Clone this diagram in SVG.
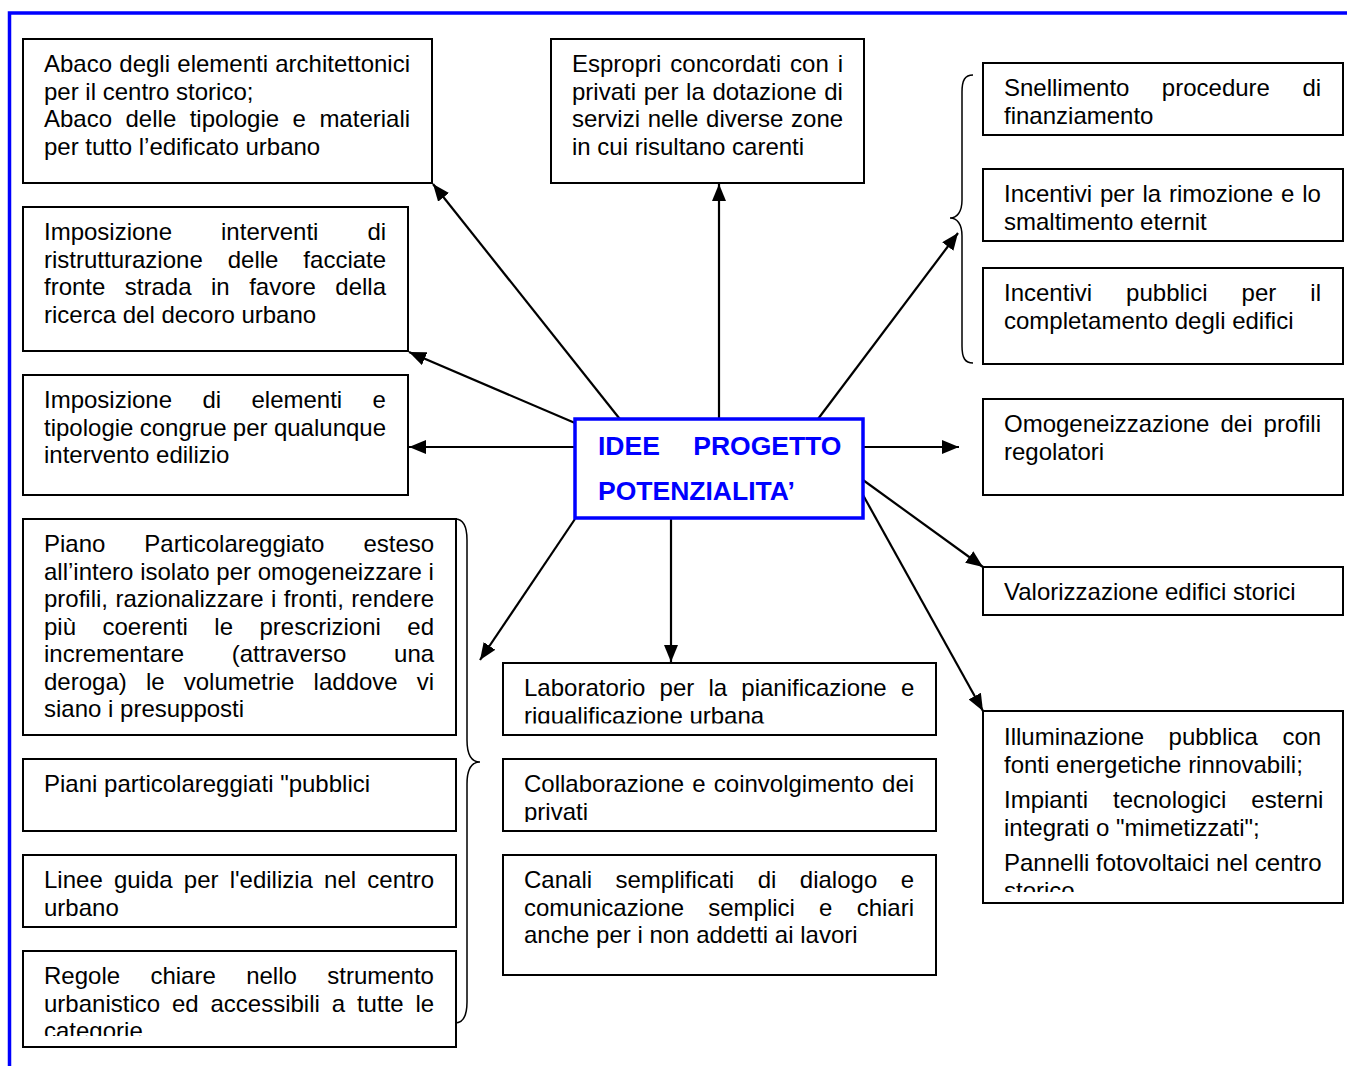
<svg xmlns="http://www.w3.org/2000/svg" width="1347" height="1066" viewBox="0 0 1347 1066">
<style>
.t{font-family:"Liberation Sans",Arial,sans-serif;font-size:24px;fill:#000}
.c{font-family:"Liberation Sans",Arial,sans-serif;font-size:26.5px;font-weight:bold;fill:#0000ff}
.b{fill:#fff;stroke:#000;stroke-width:2}
.cn{fill:none;stroke:#000;stroke-width:2.2}
.br{fill:none;stroke:#000;stroke-width:1.5}
</style>
<defs>
<marker id="ah" markerUnits="userSpaceOnUse" markerWidth="18" markerHeight="14" refX="17" refY="7" orient="auto">
<path d="M0,0 L17,7 L0,14 Z" fill="#000"/>
</marker>
<clipPath id="c8"><rect x="20" y="950" width="440" height="86"/></clipPath>
<clipPath id="c10"><rect x="500" y="662" width="440" height="61.5"/></clipPath>
<clipPath id="c11"><rect x="500" y="758" width="440" height="64"/></clipPath>
<clipPath id="c18"><rect x="980" y="710" width="367" height="182"/></clipPath>
</defs>
<rect width="1347" height="1066" fill="#fff"/>
<g id="frame">
<path d="M1347,13 L9.5,13 L9.5,1066" fill="none" stroke="#0000ff" stroke-width="3.5"/>
</g>
<g id="connectors">
<path class="cn" d="M623,423 L433,184" marker-end="url(#ah)"/>
<path class="cn" d="M719,419 L719,184" marker-end="url(#ah)"/>
<path class="cn" d="M575,423 L409,352" marker-end="url(#ah)"/>
<path class="cn" d="M575,447 L409,447" marker-end="url(#ah)"/>
<path class="cn" d="M815,423 L958,233" marker-end="url(#ah)"/>
<path class="cn" d="M863,447 L959,447" marker-end="url(#ah)"/>
<path class="cn" d="M863,480 L983,567" marker-end="url(#ah)"/>
<path class="cn" d="M863,495 L983,711" marker-end="url(#ah)"/>
<path class="cn" d="M671,518 L671,662" marker-end="url(#ah)"/>
<path class="cn" d="M575,519 L480,660" marker-end="url(#ah)"/>
<path class="br" d="M973,75 C965,75 962,80 962,92 L962,200 C962,212 957,218 950,218 C957,218 962,224 962,236 L962,346 C962,358 965,363 973,363"/>
<path class="br" d="M455,519 C463,519 467,525 467,540 L467,740 C467,755 472,762 480,762 C472,762 467,769 467,784 L467,1002 C467,1017 463,1023 455,1023"/>
</g>
<g id="n-abaco">
<rect class="b" x="23" y="39" width="409" height="144"/>
<text class="t" x="44" y="72" word-spacing="0.6">Abaco degli elementi architettonici</text>
<text class="t" x="44" y="99.5">per il centro storico;</text>
<text class="t" x="44" y="127" word-spacing="6.8">Abaco delle tipologie e materiali</text>
<text class="t" x="44" y="154.5">per tutto l’edificato urbano</text>
</g>
<g id="n-espropri">
<rect class="b" x="551" y="39" width="313" height="144"/>
<text class="t" x="572" y="72" word-spacing="2.3">Espropri concordati con i</text>
<text class="t" x="572" y="99.5" word-spacing="1">privati per la dotazione di</text>
<text class="t" x="572" y="127" word-spacing="1">servizi nelle diverse zone</text>
<text class="t" x="572" y="154.5">in cui risultano carenti</text>
</g>
<g id="n-facciate">
<rect class="b" x="23" y="207" width="385" height="144"/>
<text class="t" x="44" y="240" word-spacing="42.3">Imposizione interventi di</text>
<text class="t" x="44" y="267.5" word-spacing="18.3">ristrutturazione delle facciate</text>
<text class="t" x="44" y="295" word-spacing="12.8">fronte strada in favore della</text>
<text class="t" x="44" y="322.5">ricerca del decoro urbano</text>
</g>
<g id="n-elementi">
<rect class="b" x="23" y="375" width="385" height="120"/>
<text class="t" x="44" y="408" word-spacing="23.7">Imposizione di elementi e</text>
<text class="t" x="44" y="435.5" word-spacing="-0.3">tipologie congrue per qualunque</text>
<text class="t" x="44" y="463">intervento edilizio</text>
</g>
<g id="n-piano">
<rect class="b" x="23" y="519" width="433" height="216"/>
<text class="t" x="44" y="552" word-spacing="32.3">Piano Particolareggiato esteso</text>
<text class="t" x="44" y="579.5" word-spacing="0.1">all’intero isolato per omogeneizzare i</text>
<text class="t" x="44" y="607" word-spacing="0.8">profili, razionalizzare i fronti, rendere</text>
<text class="t" x="44" y="634.5" word-spacing="19.8">più coerenti le prescrizioni ed</text>
<text class="t" x="44" y="662" word-spacing="41">incrementare (attraverso una</text>
<text class="t" x="44" y="689.5" word-spacing="12.5">deroga) le volumetrie laddove vi</text>
<text class="t" x="44" y="717">siano i presupposti</text>
</g>
<g id="n-piani-pubblici">
<rect class="b" x="23" y="759" width="433" height="72"/>
<text class="t" x="44" y="792">Piani particolareggiati "pubblici</text>
</g>
<g id="n-linee">
<rect class="b" x="23" y="855" width="433" height="72"/>
<text class="t" x="44" y="888" word-spacing="4.5">Linee guida per l'edilizia nel centro</text>
<text class="t" x="44" y="915.5">urbano</text>
</g>
<g id="n-regole">
<rect class="b" x="23" y="951" width="433" height="96"/>
<g clip-path="url(#c8)">
<text class="t" x="44" y="984" word-spacing="23.7">Regole chiare nello strumento</text>
<text class="t" x="44" y="1011.5" word-spacing="5.2">urbanistico ed accessibili a tutte le</text>
<text class="t" x="44" y="1039">categorie</text>
</g>
</g>
<g id="n-center">
<rect x="575" y="419" width="288" height="99" fill="#fff" stroke="#0000ff" stroke-width="3.5"/>
<text class="c" x="598" y="455" word-spacing="26">IDEE PROGETTO</text>
<text class="c" x="598" y="500">POTENZIALITA’</text>
</g>
<g id="n-laboratorio">
<rect class="b" x="503" y="663" width="433" height="72"/>
<g clip-path="url(#c10)">
<text class="t" x="524" y="696" word-spacing="7.5">Laboratorio per la pianificazione e</text>
<text class="t" x="524" y="723.5">riqualificazione urbana</text>
</g>
</g>
<g id="n-collaborazione">
<rect class="b" x="503" y="759" width="433" height="72"/>
<g clip-path="url(#c11)">
<text class="t" x="524" y="792" word-spacing="1.5">Collaborazione e coinvolgimento dei</text>
<text class="t" x="524" y="819.5">privati</text>
</g>
</g>
<g id="n-canali">
<rect class="b" x="503" y="855" width="433" height="120"/>
<text class="t" x="524" y="888" word-spacing="16.8">Canali semplificati di dialogo e</text>
<text class="t" x="524" y="915.5" word-spacing="17.5">comunicazione semplici e chiari</text>
<text class="t" x="524" y="943">anche per i non addetti ai lavori</text>
</g>
<g id="n-snellimento">
<rect class="b" x="983" y="63" width="360" height="72"/>
<text class="t" x="1004" y="96" word-spacing="25.8">Snellimento procedure di</text>
<text class="t" x="1004" y="123.5">finanziamento</text>
</g>
<g id="n-eternit">
<rect class="b" x="983" y="169" width="360" height="72"/>
<text class="t" x="1004" y="202" word-spacing="1.2">Incentivi per la rimozione e lo</text>
<text class="t" x="1004" y="229.5">smaltimento eternit</text>
</g>
<g id="n-edifici">
<rect class="b" x="983" y="268" width="360" height="96"/>
<text class="t" x="1004" y="301" word-spacing="27.4">Incentivi pubblici per il</text>
<text class="t" x="1004" y="328.5">completamento degli edifici</text>
</g>
<g id="n-omogeneizzazione">
<rect class="b" x="983" y="399" width="360" height="96"/>
<text class="t" x="1004" y="432" word-spacing="4.4">Omogeneizzazione dei profili</text>
<text class="t" x="1004" y="459.5">regolatori</text>
</g>
<g id="n-valorizzazione">
<rect class="b" x="983" y="567" width="360" height="48"/>
<text class="t" x="1004" y="600">Valorizzazione edifici storici</text>
</g>
<g id="n-illuminazione">
<rect class="b" x="983" y="711" width="360" height="192"/>
<g clip-path="url(#c18)">
<text class="t" x="1004" y="745" word-spacing="17.8">Illuminazione pubblica con</text>
<text class="t" x="1004" y="772.5">fonti energetiche rinnovabili;</text>
<text class="t" x="1004" y="808" word-spacing="18.3">Impianti tecnologici esterni</text>
<text class="t" x="1004" y="835.5">integrati o "mimetizzati";</text>
<text class="t" x="1004" y="871">Pannelli fotovoltaici nel centro</text>
<text class="t" x="1004" y="898.5">storico</text>
</g>
</g>
</svg>
